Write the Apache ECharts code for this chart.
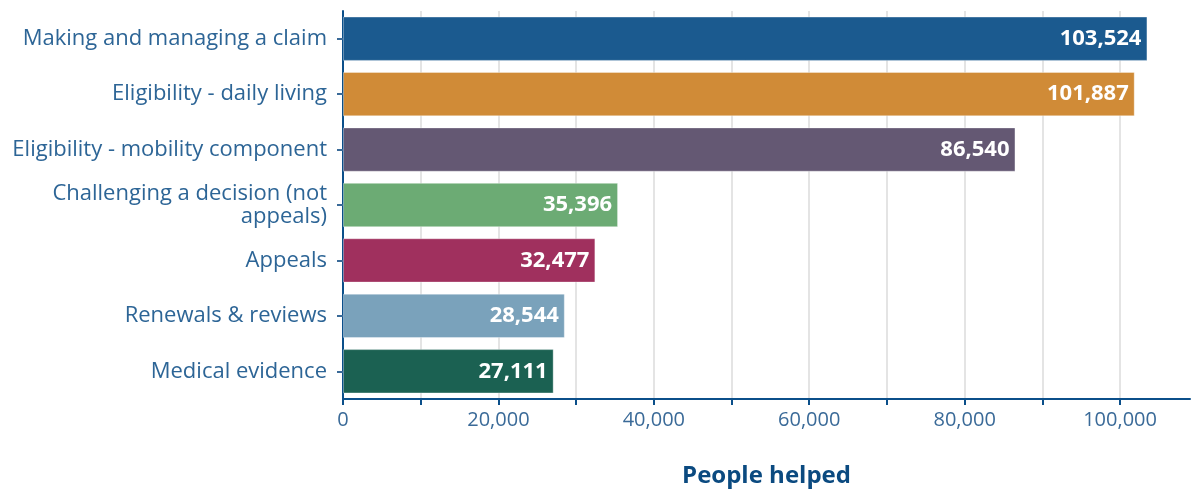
<!DOCTYPE html>
<html lang="en">
<head>
  <meta charset="UTF-8">
  <title>People helped</title>
  <script src="https://cdn.jsdelivr.net/npm/echarts@6/dist/echarts.min.js"></script>
  <style>
    html, body { margin: 0; padding: 0; background: #fff; }
  </style>
</head>
<body>
<div id="main" style="width: 1191px; height: 490px"></div>
<script>

  var categories = [
    'Making and managing a claim',
    'Eligibility - daily living',
    'Eligibility - mobility component',
    'Challenging a decision (not\nappeals)',
    'Appeals',
    'Renewals & reviews',
    'Medical evidence'
  ];
  var values = [103524, 101887, 86540, 35396, 32477, 28544, 27111];
  var colors = ['#1b5a8f', '#d08b37', '#645873', '#6cab74', '#a0305e', '#7aa2bb', '#1b6152'];

  var chartDom = document.getElementById('main');
  var myChart = echarts.init(chartDom);
  var font = '"Open Sans", sans-serif';

  var option = {
    animation: false,
    grid: {
      left: 343,
      right: 1,
      top: 11,
      bottom: 91,
      outerBoundsMode: 'none'
    },
    xAxis: {
      type: 'value',
      min: 0,
      max: 109000,
      interval: 10000,
      name: 'People helped',
      nameLocation: 'middle',
      nameGap: 65,
      nameTextStyle: {
        color: '#0b4a80',
        fontFamily: font,
        fontSize: 24,
        fontWeight: 'bold'
      },
      axisLine: { show: true, lineStyle: { color: '#0b4f8a', width: 2 } },
      axisTick: { show: true, length: 6, lineStyle: { color: '#0b4f8a', width: 2 } },
      axisLabel: {
        color: '#3a6a98',
        fontFamily: font,
        fontSize: 20,
        margin: 11,
        showMaxLabel: false,
        formatter: function (v) {
          return v % 20000 === 0 ? v.toLocaleString('en-US') : '';
        }
      },
      splitLine: {
        show: true,
        showMinLine: false,
        showMaxLine: false,
        lineStyle: { color: '#e4e4e4', width: 2 }
      }
    },
    yAxis: {
      type: 'category',
      data: categories,
      inverse: true,
      axisLine: { show: true, lineStyle: { color: '#0b4f8a', width: 2 } },
      axisTick: { show: true, length: 6, alignWithLabel: true, lineStyle: { color: '#3a6a98', width: 2 } },
      axisLabel: {
        color: '#2d6596',
        fontFamily: font,
        fontSize: 22,
        lineHeight: 23,
        margin: 16,
        padding: [4, 0, 0, 0],
        align: 'right'
      }
    },
    series: [
      {
        type: 'bar',
        data: values.map(function (v, i) {
          return { value: v, itemStyle: { color: colors[i] } };
        }),
        barCategoryGap: '20%',
        itemStyle: {
          borderColor: 'rgba(255,255,255,0.35)',
          borderWidth: 1
        },
        label: {
          show: true,
          position: 'insideRight',
          distance: 6,
          color: '#fff',
          fontFamily: font,
          fontSize: 22,
          fontWeight: 'bold',
          formatter: function (p) {
            return p.value.toLocaleString('en-US');
          }
        }
      }
    ]
  };
  option && myChart.setOption(option);

</script>
</body>
</html>
